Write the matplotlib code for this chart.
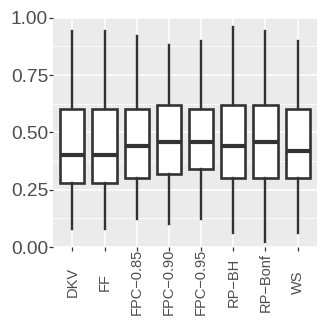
import matplotlib
matplotlib.use('Agg')
import matplotlib.pyplot as plt

plt.rcParams['font.family'] = ['Liberation Sans', 'DejaVu Sans']

methods = ['DKV', 'FF', 'FPC\u22120.85', 'FPC\u22120.90', 'FPC\u22120.95', 'RP\u2212BH', 'RP\u2212Bonf', 'WS']
whis_lo = [0.08, 0.08, 0.12, 0.10, 0.12, 0.06, 0.02, 0.06]
q1 = [0.28, 0.28, 0.30, 0.32, 0.34, 0.30, 0.30, 0.30]
med = [0.40, 0.40, 0.44, 0.46, 0.46, 0.44, 0.46, 0.42]
q3 = [0.60, 0.60, 0.60, 0.62, 0.60, 0.62, 0.62, 0.60]
whis_hi = [0.94, 0.94, 0.92, 0.88, 0.90, 0.96, 0.94, 0.90]

stats = []
for i in range(len(methods)):
    stats.append({'label': methods[i], 'whislo': whis_lo[i], 'q1': q1[i], 'med': med[i],
                  'q3': q3[i], 'whishi': whis_hi[i], 'fliers': []})

dark = '#333333'
fig = plt.figure(figsize=(3.21, 3.27), dpi=100)
ax = fig.add_axes([53 / 321, 1 - 247 / 327, 264 / 321, 229.3 / 327])
ax.set_facecolor('#EBEBEB')

pos = list(range(1, len(methods) + 1))
ax.bxp(stats, positions=pos, widths=0.75, showcaps=False, showfliers=False,
       patch_artist=True,
       boxprops=dict(facecolor='white', edgecolor=dark, linewidth=1.9),
       whiskerprops=dict(color=dark, linewidth=1.7),
       medianprops=dict(color=dark, linewidth=3.0, solid_capstyle='butt'),
       zorder=3)

ax.set_xlim(0.4, len(methods) + 0.6)
ax.set_ylim(0, 1.0)
ax.set_yticks([0, 0.25, 0.5, 0.75, 1.0])
ax.set_yticklabels(['0.00', '0.25', '0.50', '0.75', '1.00'])
ax.set_yticks([0.125, 0.375, 0.625, 0.875], minor=True)
ax.set_xticks(pos)
ax.set_xticklabels(methods, rotation=90, ha='center', va='center')

ax.grid(True, which='major', color='white', linewidth=1.1, zorder=0)
ax.grid(True, which='minor', axis='y', color='white', linewidth=0.55, zorder=0)
ax.set_axisbelow(True)
for s in ax.spines.values():
    s.set_visible(False)

ax.tick_params(axis='both', which='major', length=2.75, width=0.9, color=dark)
ax.tick_params(axis='y', which='minor', length=0)
ax.tick_params(axis='y', labelsize=13.8, labelcolor='#4D4D4D', pad=0.8)
ax.tick_params(axis='x', labelsize=10.5, labelcolor='#4D4D4D', pad=22.5)

fig.savefig('out.png', dpi=100)
